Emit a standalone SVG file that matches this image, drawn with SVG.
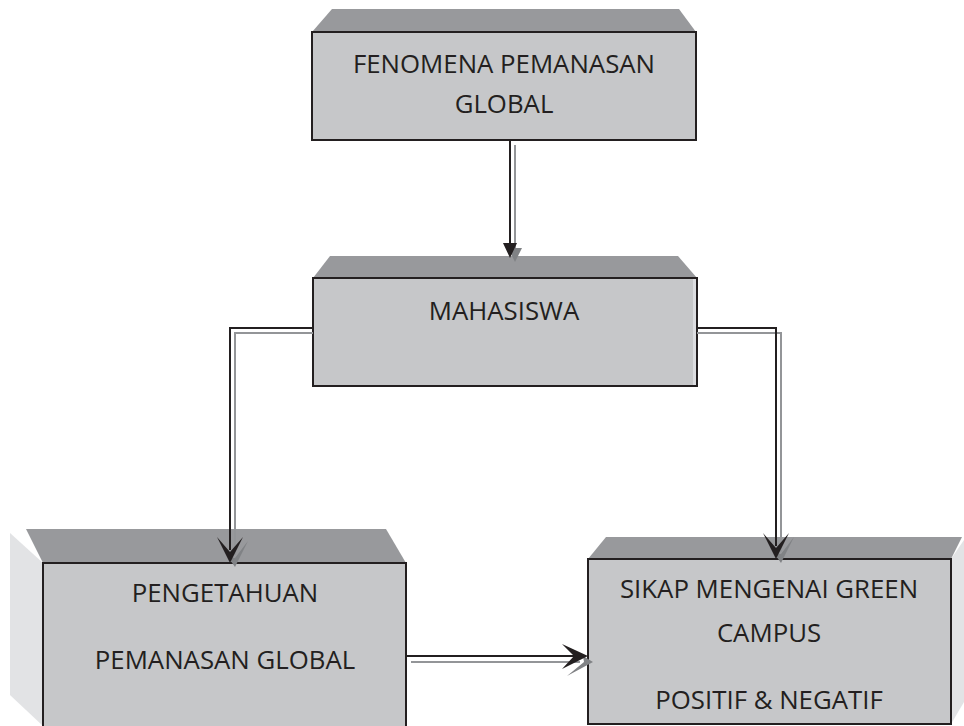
<svg xmlns="http://www.w3.org/2000/svg" width="964" height="726" viewBox="0 0 964 726">
<style>
.front{fill:#c6c7c9;stroke:#231f20;stroke-width:2}
.bevel{fill:#98999c}
.side{fill:#e2e3e5}
.t{font-family:"Open Sans","Liberation Sans",sans-serif;font-size:25.8px;fill:#231f20;text-anchor:middle}
.bl{fill:none;stroke:#231f20;stroke-width:2}
.gl{fill:none;stroke:#939598;stroke-width:2}
.ba{fill:#231f20}
.ga{fill:#808285}
</style>
<rect width="964" height="726" fill="#ffffff"/>
<g id="node-fenomena">
<polygon class="bevel" points="332,9 679,9 696,32 312,32"/>
<rect class="front" x="312" y="32" width="384" height="108"/>
<text class="t" x="504" y="73">FENOMENA PEMANASAN</text>
<text class="t" x="504" y="113">GLOBAL</text>
</g>
<g id="node-mahasiswa">
<polygon class="bevel" points="330,256 678,256 697,278 313,278"/>
<rect class="front" x="313" y="278" width="384" height="108"/>
<rect x="693" y="279" width="3" height="106" fill="#dcdde0"/>
<text class="t" x="504" y="320">MAHASISWA</text>
</g>
<g id="node-pengetahuan">
<polygon class="side" points="10,533 43,563 43,726 10,695"/>
<polygon class="bevel" points="26,529 386,529 406,563 43,563"/>
<rect class="front" x="43" y="563" width="363" height="170"/>
<text class="t" x="225" y="602">PENGETAHUAN</text>
<text class="t" x="225" y="669">PEMANASAN GLOBAL</text>
</g>
<g id="node-sikap">
<polygon class="side" points="951,559 964,540 964,702 951,724"/>
<polygon class="bevel" points="606,537 962,537 951,559 588,559"/>
<rect class="front" x="588" y="559" width="363" height="165"/>
<text class="t" x="769" y="598">SIKAP MENGENAI GREEN</text>
<text class="t" x="769" y="642">CAMPUS</text>
<text class="t" x="769" y="709">POSITIF &amp; NEGATIF</text>
</g>
<g id="connectors">
<line class="gl" x1="515" y1="145" x2="515" y2="250"/>
<polygon class="ga" points="508,248 522,248 515,262"/>
<line class="bl" x1="510" y1="141" x2="510" y2="246"/>
<polygon class="ba" points="503,243 517,243 510,258"/>
<polyline class="gl" points="313,333 235,333 235,555"/>
<polygon class="ga" points="248,541 235,567 228,557 235,558"/>
<polyline class="bl" points="313,328 230,328 230,550"/>
<polygon class="ba" points="217,537 230,563 243,537 230,552"/>
<polyline class="gl" points="697,333 781,333 781,552"/>
<polygon class="ga" points="794,537 781,563 774,553 781,554"/>
<polyline class="bl" points="697,328 776,328 776,546"/>
<polygon class="ba" points="763,533 776,559 789,533 776,548"/>
<line class="gl" x1="411" y1="662" x2="580" y2="662"/>
<polygon class="ga" points="567,676 593,662 583,656 584,662"/>
<line class="bl" x1="406" y1="656" x2="575" y2="656"/>
<polygon class="ba" points="562,644 588,656 562,669 574,656"/>
</g>
</svg>
